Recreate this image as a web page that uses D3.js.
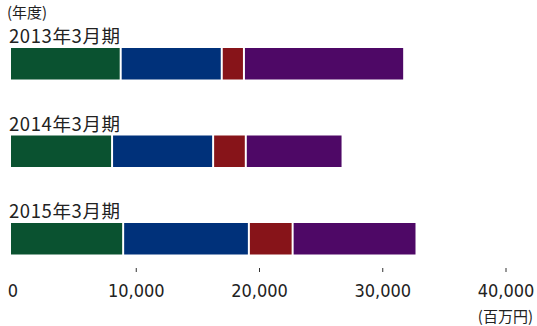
<!DOCTYPE html>
<html><head><meta charset="utf-8">
<script src="https://cdn.jsdelivr.net/npm/d3@7"></script>
<style>body{margin:0;background:#fff}</style>
</head><body>
<script>
const years = ["2013年3月期", "2014年3月期", "2015年3月期"];
const seriesA = [8900, 8200, 9100];
const seriesB = [8200, 8200, 10200];
const seriesC = [1800, 2650, 3550];
const seriesD = [13000, 7850, 10050];
const colors = ["#0a5230", "#00317a", "#871419", "#4e0866"];
const tickValues = [0, 10000, 20000, 30000, 40000];

const W = 537, H = 326;
const svg = d3.select("body").append("svg").attr("width", W).attr("height", H);

const x = d3.scaleLinear().domain([0, 40000]).range([11, 504]);
const y = d3.scaleBand().domain(years).range([48, 254.5]).paddingInner(0.64).paddingOuter(0);

const rows = years.map((yr, i) => {
  const vals = [seriesA[i], seriesB[i], seriesC[i], seriesD[i]];
  let c = 0;
  return vals.map((v, k) => { const s = c; c += v; return {yr, k, s, e: c}; });
});

const jp = "'Noto Sans CJK JP', sans-serif";

svg.append("text").attr("x", 7).attr("y", 18).attr("font-family", jp)
  .attr("font-size", 15).attr("fill", "#222").text("(年度)");

svg.selectAll("text.yr").data(years).join("text").attr("class", "yr")
  .attr("x", 9).attr("y", d => y(d) - 5)
  .attr("font-family", jp).attr("font-size", 18.5).attr("letter-spacing", 0.6)
  .attr("fill", "#222").text(d => d);

svg.selectAll("g.row").data(rows).join("g").attr("class", "row")
  .selectAll("rect").data(d => d).join("rect")
  .attr("x", d => x(d.s) + (d.k ? 1 : 0))
  .attr("y", d => y(d.yr))
  .attr("width", d => x(d.e) - x(d.s) - (d.k ? 2 : 1))
  .attr("height", y.bandwidth())
  .attr("fill", d => colors[d.k]);

const axis = d3.axisBottom(x).tickValues(tickValues).tickSize(4).tickPadding(12)
  .tickFormat(d3.format(","));
const g = svg.append("g").attr("transform", "translate(1.5,268)").call(axis);
g.select(".domain").remove();
g.selectAll(".tick line").attr("stroke", "#333");
g.selectAll(".tick").filter(d => d === 0).select("line").remove();
g.selectAll(".tick text").attr("font-family", "'Liberation Sans Narrow','DejaVu Sans Condensed',sans-serif")
  .attr("font-size", 18).attr("fill", "#222");

svg.append("text").attr("x", 533).attr("y", 322).attr("text-anchor", "end")
  .attr("font-family", jp).attr("font-size", 15).attr("fill", "#222").text("(百万円)");
</script>
</body></html>
